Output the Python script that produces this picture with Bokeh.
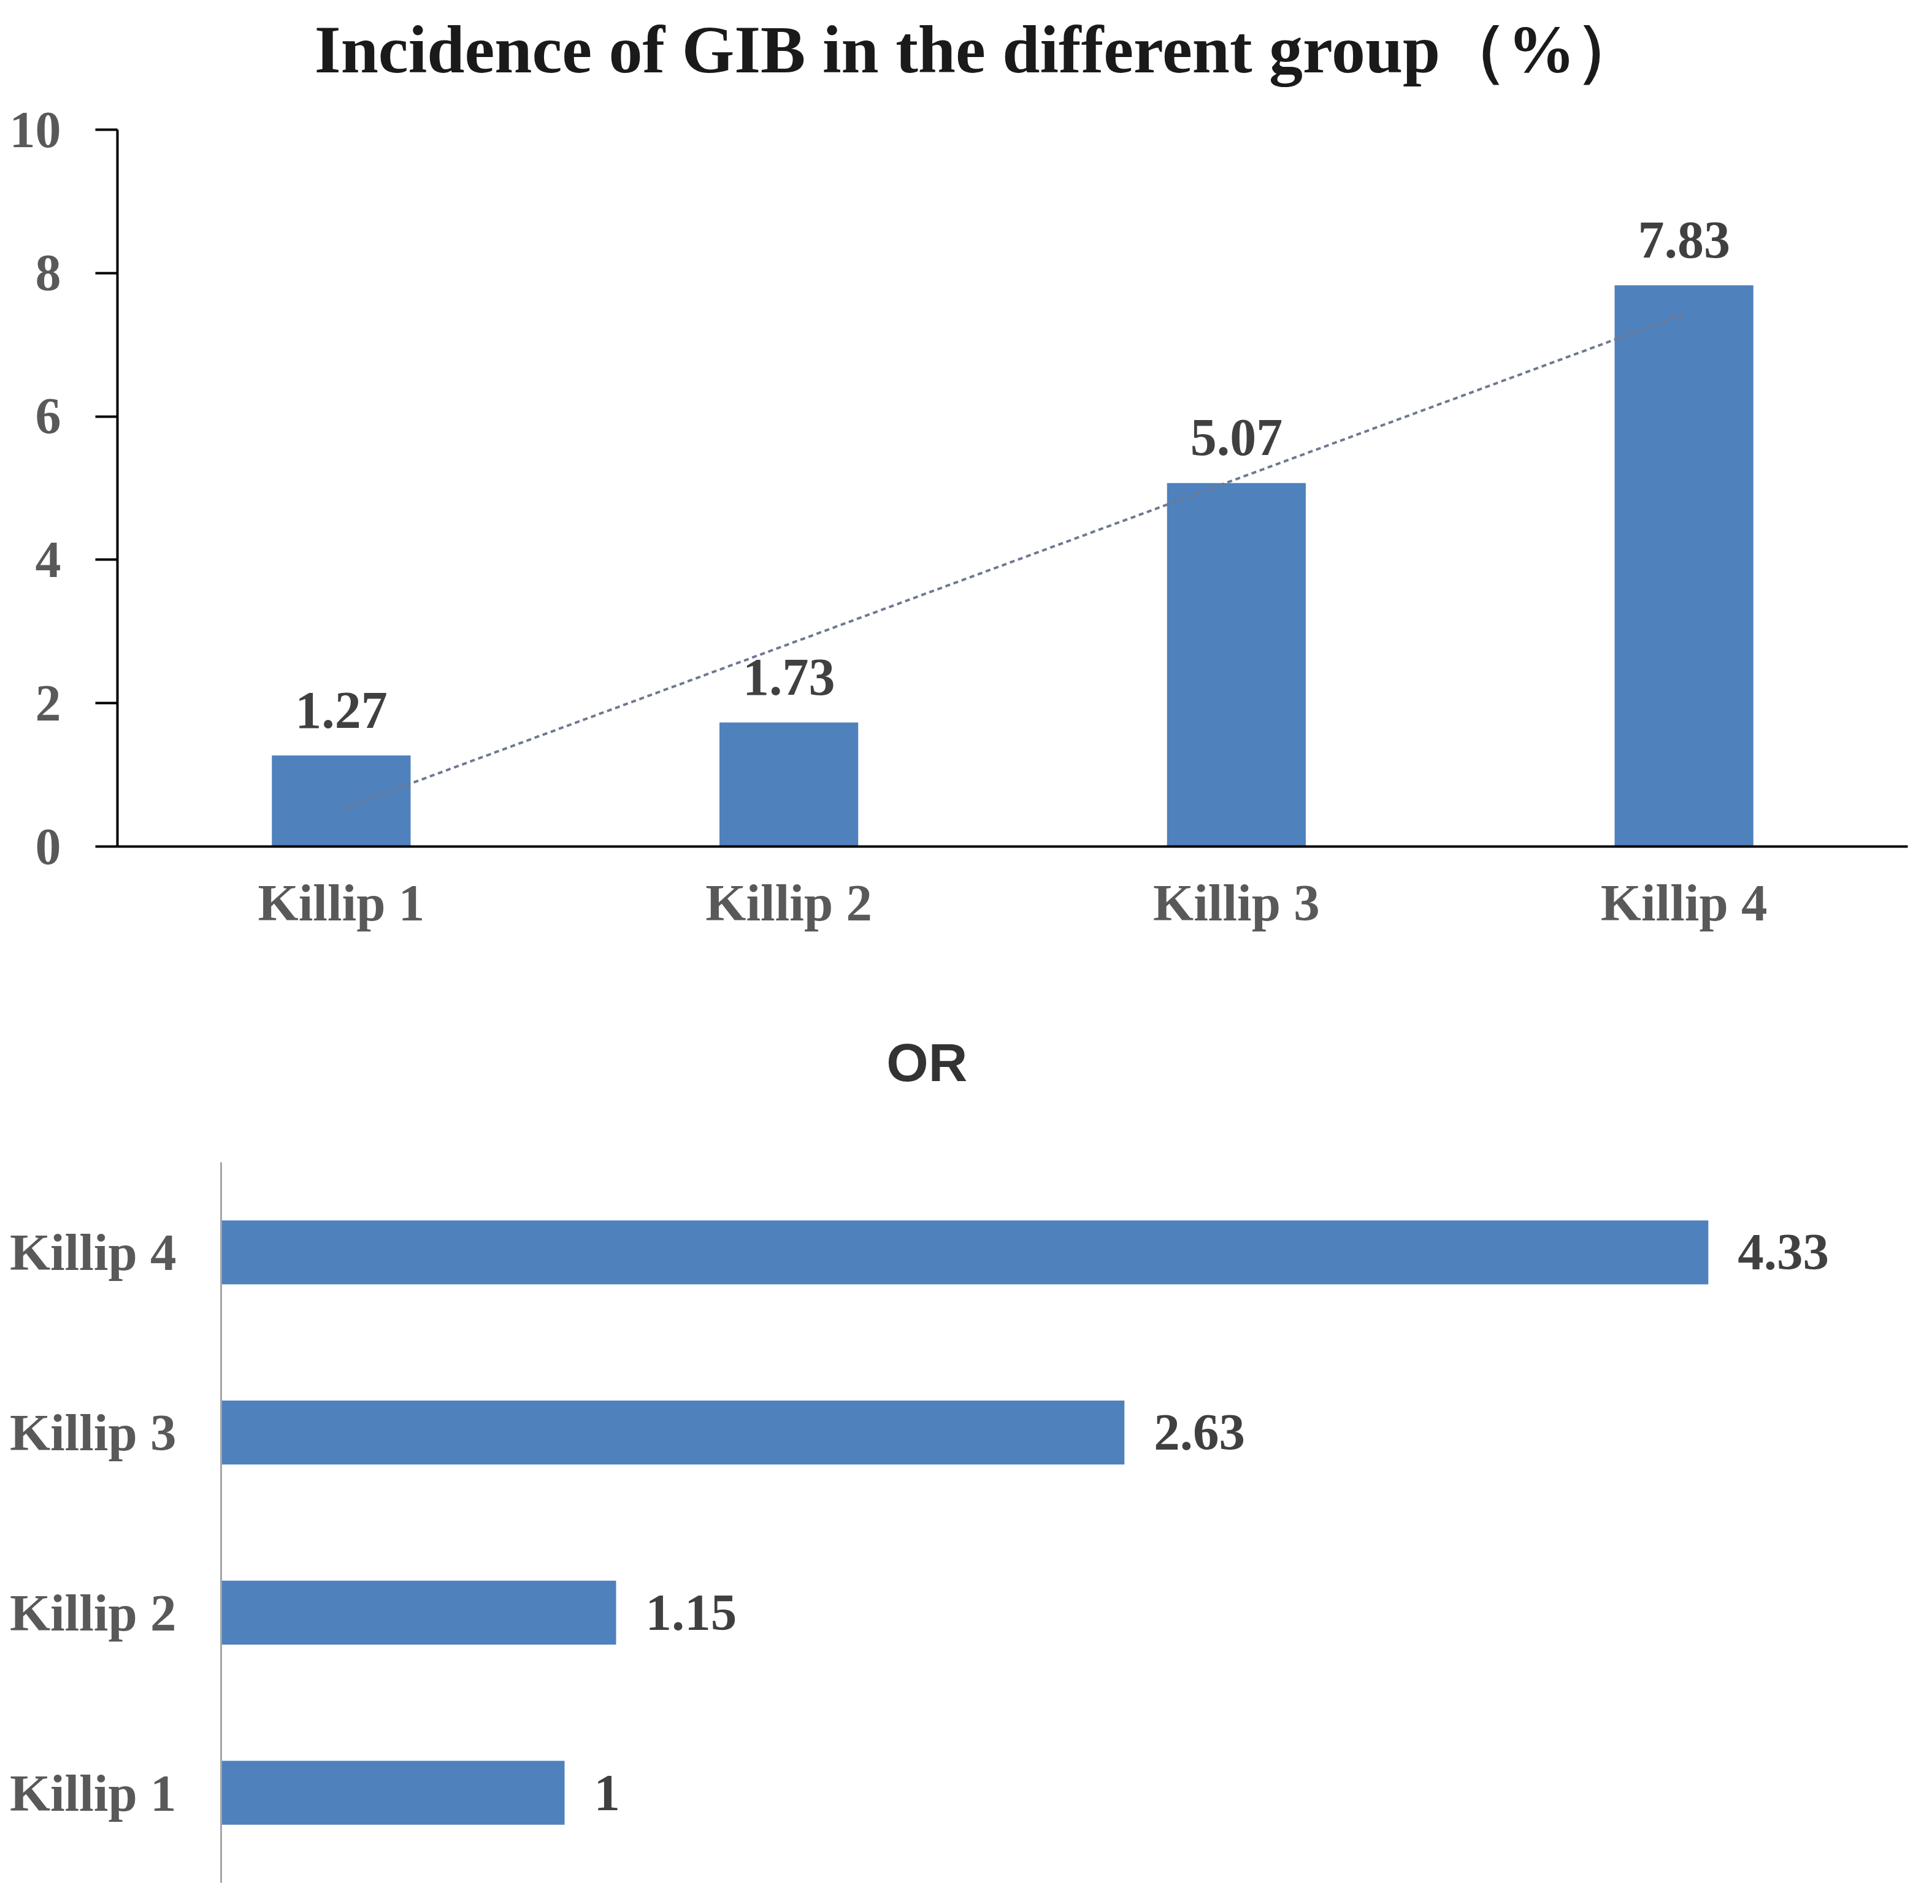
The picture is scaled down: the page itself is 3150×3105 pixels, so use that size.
import numpy as np
from bokeh.plotting import figure
from bokeh.models import Range1d, FactorRange, FixedTicker, Label, ColumnDataSource
from bokeh.embed import file_html
from bokeh.resources import INLINE
from bokeh.core.properties import value

# ---- data ----
categories = ["Killip 1", "Killip 2", "Killip 3", "Killip 4"]
incidence = [1.27, 1.73, 5.07, 7.83]
odds_ratio = [1.0, 1.15, 2.63, 4.33]
odds_labels = ["1", "1.15", "2.63", "4.33"]
incidence_labels = ["1.27", "1.73", "5.07", "7.83"]
y_ticks = [0, 2, 4, 6, 8, 10]
title_top = "Incidence of GIB in the different group（%）"
title_bottom = "OR"

BAR = "#4F81BD"
SERIF = "Liberation Serif"
SANS = "Liberation Sans"

# ---- top chart ----
p1 = figure(width=3134, height=1560, x_range=FactorRange(factors=categories),
            y_range=Range1d(0, 11.805), output_backend="svg", toolbar_location=None,
            min_border_left=191, min_border_right=24, min_border_top=0,
            min_border_bottom=180)
p1.outline_line_color = None
p1.grid.visible = False
p1.background_fill_color = "white"

p1.vbar(x=categories, top=incidence, width=0.31, color=BAR, line_color=None)

# linear trendline
xi = np.arange(1, len(incidence) + 1)
coef = np.polyfit(xi, incidence, 1)
trend = list(np.polyval(coef, xi))
p1.line(x=categories, y=trend, line_color="#6e7890", line_width=4, line_dash="8 6")

src1 = ColumnDataSource(dict(x=categories, y=incidence, t=incidence_labels))
p1.text(x="x", y="y", text="t", source=src1, y_offset=-74, text_align="center",
        text_baseline="middle", text_font=value(SERIF), text_font_style="bold",
        text_font_size="86px", text_color="#404040")

ya = p1.yaxis[0]
ya.ticker = FixedTicker(ticks=y_ticks)
ya.bounds = (0, 10)
ya.axis_line_color = "black"
ya.axis_line_width = 4
ya.major_tick_line_color = "black"
ya.major_tick_line_width = 4
ya.major_tick_out = 36
ya.major_tick_in = 0
ya.minor_tick_line_color = None
ya.major_label_standoff = 56
ya.major_label_text_font = SERIF
ya.major_label_text_font_style = "bold"
ya.major_label_text_font_size = "84px"
ya.major_label_text_color = "#595959"

xa = p1.xaxis[0]
xa.axis_line_color = "black"
xa.axis_line_width = 4
xa.major_tick_line_color = None
xa.minor_tick_line_color = None
xa.major_label_standoff = 38
xa.major_label_text_font = SERIF
xa.major_label_text_font_style = "bold"
xa.major_label_text_font_size = "85px"
xa.major_label_text_color = "#595959"

p1.add_layout(Label(x=1.924, y=11.12, text=title_top, text_align="center",
                    text_baseline="middle", text_font=SERIF, text_font_style="bold",
                    text_font_size="110px", text_color="#1a1a1a"))

# ---- bottom chart ----
ypos = [i + 1 for i in range(len(categories))]
p2 = figure(width=3134, height=1529, y_range=Range1d(0.5, 5.64),
            x_range=Range1d(0, 4.95), output_backend="svg", toolbar_location=None,
            min_border_left=360, min_border_right=2, min_border_top=0,
            min_border_bottom=19)
p2.outline_line_color = None
p2.grid.visible = False
p2.xaxis.visible = False

p2.hbar(y=ypos, right=odds_ratio, left=0, height=0.355, color=BAR, line_color=None)

src2 = ColumnDataSource(dict(x=odds_ratio, y=ypos, t=odds_labels))
p2.text(x="x", y="y", text="t", source=src2, x_offset=48, text_align="left",
        text_baseline="middle", text_font=value(SERIF), text_font_style="bold",
        text_font_size="85px", text_color="#404040")

ya2 = p2.yaxis[0]
ya2.ticker = FixedTicker(ticks=ypos)
ya2.major_label_overrides = {k: c for k, c in zip(ypos, categories)}
ya2.bounds = (0.5, len(categories) + 0.5)
ya2.axis_line_color = "#a6a6a6"
ya2.axis_line_width = 3
ya2.major_tick_line_color = None
ya2.minor_tick_line_color = None
ya2.major_label_standoff = 67
ya2.major_label_text_font = SERIF
ya2.major_label_text_font_style = "bold"
ya2.major_label_text_font_size = "85px"
ya2.major_label_text_color = "#595959"

p2.add_layout(Label(x=2.055, y=5.055, text=title_bottom, text_align="center",
                    text_baseline="middle", text_font=SANS, text_font_style="bold",
                    text_font_size="88px", text_color="#333333"))

open("out.html", "w").write(file_html([p1, p2], INLINE))
